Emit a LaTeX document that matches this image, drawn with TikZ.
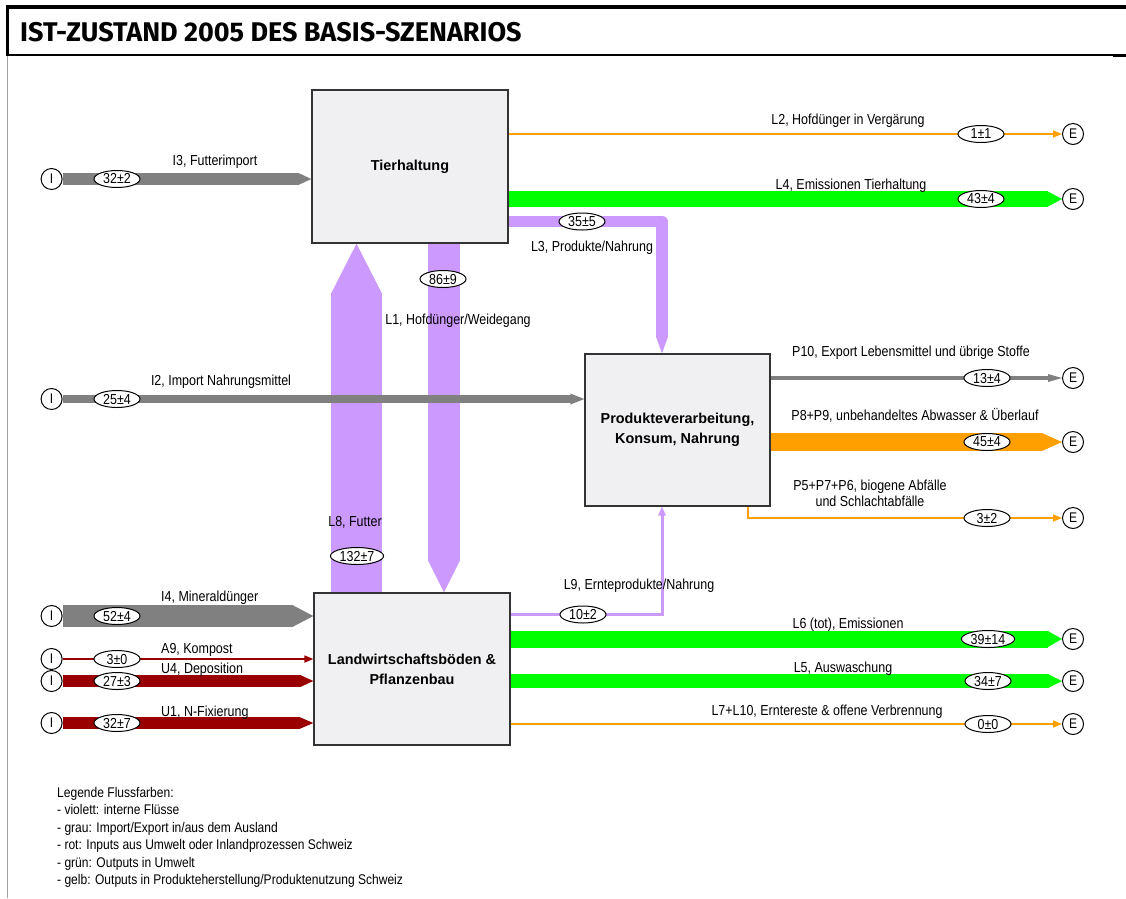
\documentclass[tikz,border=0pt]{standalone}
\usepackage{fontspec}
\setmainfont[FakeStretch=0.86]{Liberation Sans}
\newfontfamily\boxfont{Liberation Sans}
\newfontfamily\titlefont{Fira Sans}
\usetikzlibrary{arrows.meta,calc,shapes.geometric}

\definecolor{flowviolet}{RGB}{204,153,255}
\definecolor{flowgray}{RGB}{128,128,128}
\definecolor{flowgreen}{RGB}{0,255,0}
\definecolor{floworange}{RGB}{255,160,0}
\definecolor{flowred}{RGB}{153,0,0}
\definecolor{procfill}{RGB}{240,240,242}
\definecolor{framegray}{RGB}{160,160,160}

% arrowheads: colour, width, length, tip point
\newcommand\tipR[4]{\fill[#1] (#4) -- ++(-#3,-#2/2) -- ++(0,#2) -- cycle;}
\newcommand\tipU[4]{\fill[#1] (#4) -- ++(-#2/2,#3) -- ++(#2,0) -- cycle;}
\newcommand\tipD[4]{\fill[#1] (#4) -- ++(-#2/2,-#3) -- ++(#2,0) -- cycle;}
% broad flows: colour, band width, head width, head length, start, tip
\newcommand\bandR[6]{%
  \draw[#1, line width=#2pt] (#5) -- ($(#6)+(-#4+0.5,0)$);
  \tipR{#1}{#3}{#4}{#6}}
\newcommand\bandU[6]{%
  \draw[#1, line width=#2pt] (#5) -- ($(#6)+(0,#4-0.5)$);
  \tipU{#1}{#3}{#4}{#6}}
\newcommand\bandD[6]{%
  \draw[#1, line width=#2pt] (#5) -- ($(#6)+(0,-#4+0.5)$);
  \tipD{#1}{#3}{#4}{#6}}

\tikzset{
  proc/.style={draw=black!80, line width=1.3pt, fill=procfill, align=center,
    inner sep=0pt, font=\boxfont\bfseries\fontsize{14.4}{20}\selectfont},
  src/.style={circle, draw=black, fill=white, line width=1pt, minimum size=21pt,
    inner sep=0pt, font=\fontsize{14}{16}\selectfont},
  val/.style={ellipse, draw=black, fill=white, line width=1pt, minimum width=46pt,
    minimum height=17pt, inner xsep=1.5pt, inner ysep=0pt,
    font=\fontsize{14.5}{16}\selectfont},
  lbl/.style={anchor=base, inner sep=0pt, font=\fontsize{14.5}{17}\selectfont},
  lblw/.style={lbl, anchor=base west},
  legend/.style={anchor=base west, inner sep=0pt, font=\fontsize{14}{16}\selectfont},
  thinflow/.style={line width=1.7pt, -{Triangle[length=9pt,width=7pt]}},
}

\begin{document}
\begin{tikzpicture}[x=1pt,y=-1pt]
\useasboundingbox (0,0) rectangle (1126,898);
\fill[white] (0,0) rectangle (1126,898);

% header and frame
\draw[framegray, line width=1pt] (7.5,55) -- (7.5,898);
\draw[line width=3.5pt] (1126,7) -- (7.5,7) -- (7.5,55);
\draw[line width=2.5pt] (6,55) -- (1126,55);
\draw[line width=3.5pt] (1113,55.5) -- (1126,55.5);
\node[anchor=base west, inner sep=0pt,
  font=\titlefont\bfseries\fontsize{27}{30}\selectfont] (title) at (20,41)
  {IST-ZUSTAND 2005 DES BASIS-SZENARIOS};

% processes
\node[proc, minimum width=196pt, minimum height=153pt] (tier) at (410,166.5) {Tierhaltung};
\node[proc, minimum width=185pt, minimum height=152pt] (prod) at (677.5,430)
  {Produkteverarbeitung,\\Konsum, Nahrung};
\node[proc, minimum width=196pt, minimum height=152pt] (land) at (412,669)
  {Landwirtschaftsb\"oden \&\\Pflanzenbau};

% imports
\node[src] (i3) at (51.6,179) {I};
\node[src] (i2) at (51.6,399) {I};
\node[src] (i4) at (51.6,616) {I};
\node[src] (ia9) at (51.6,659) {I};
\node[src] (iu4) at (51.6,681) {I};
\node[src] (iu1) at (51.6,723) {I};
% exports
\node[src] (el2) at (1073,134) {E};
\node[src] (el4) at (1073,199) {E};
\node[src] (ep10) at (1073,378) {E};
\node[src] (ep89) at (1073,442) {E};
\node[src] (ep5) at (1073,518) {E};
\node[src] (el6) at (1073,639) {E};
\node[src] (el5) at (1073,681) {E};
\node[src] (el7) at (1073,724) {E};

% columns and rows of the bent flows
\coordinate (c-l8) at (356.5,0);
\coordinate (c-l1) at (444,0);
\coordinate (c-l3) at (662,221.5);
\coordinate (c-p5) at (748,0);
\coordinate (r-l9) at (0,614.5);

% internal flows
\bandU{flowviolet}{51}{51}{50}{c-l8 |- land.north}{c-l8 |- tier.south}
\bandD{flowviolet}{32}{32}{32}{c-l1 |- tier.south}{c-l1 |- land.north}
\draw[flowviolet, line width=11.5pt, line join=round]
  (tier.east |- c-l3) -- (c-l3) -- ($(c-l3 |- prod.north)+(0,-15.5)$);
\tipD{flowviolet}{11.5}{16}{c-l3 |- prod.north}
\draw[flowviolet, line width=3pt] (land.east |- r-l9) -| ($(c-l3 |- prod.south)+(0,8)$);
\tipU{flowviolet}{8}{9}{c-l3 |- prod.south}

% inputs
\bandR{flowgray}{11.5}{12}{13}{i3.east}{tier.west |- i3}
\bandR{flowgray}{8}{11}{14}{i2.east}{prod.west |- i2}
\bandR{flowgray}{22}{22}{21}{i4.east}{land.west |- i4}
\draw[flowred, thinflow] (ia9.east) -- (land.west |- ia9);
\bandR{flowred}{11.5}{12}{13}{iu4.east}{land.west |- iu4}
\bandR{flowred}{12}{12}{14}{iu1.east}{land.west |- iu1}

% outputs
\draw[floworange, thinflow] (tier.east |- el2) -- (el2);
\bandR{flowgreen}{16}{16}{15}{tier.east |- el4}{el4.west}
\bandR{flowgray}{4.5}{8}{14}{prod.east |- ep10}{ep10.west}
\bandR{floworange}{18}{18}{20}{prod.east |- ep89}{ep89.west}
\draw[floworange, thinflow] (c-p5 |- prod.south) |- (ep5);
\bandR{flowgreen}{17}{17}{15}{land.east |- el6}{el6.west}
\bandR{flowgreen}{14}{14}{14}{land.east |- el5}{el5.west}
\draw[floworange, thinflow] (land.east |- el7) -- (el7);

% flow values
\node[val] (v-i3) at (117,179) {32±2};
\node[val] (v-i2) at (117,399) {25±4};
\node[val] (v-i4) at (117,616) {52±4};
\node[val] (v-a9) at (117,659) {3±0};
\node[val] (v-u4) at (117,681) {27±3};
\node[val] (v-u1) at (117,723) {32±7};
\node[val] (v-l2) at (981,134) {1±1};
\node[val] (v-l4) at (981,199) {43±4};
\node[val] (v-l3) at (582,221.5) {35±5};
\node[val] (v-l1) at (443,279) {86±9};
\node[val] (v-l8) at (357,556) {132±7};
\node[val] (v-l9) at (583,614.5) {10±2};
\node[val] (v-p10) at (987,378) {13±4};
\node[val] (v-p89) at (987,442) {45±4};
\node[val] (v-p5) at (987,518) {3±2};
\node[val] (v-l6) at (988,639) {39±14};
\node[val] (v-l5) at (988,681) {34±7};
\node[val] (v-l7) at (988,724) {0±0};

% flow names
\node[lbl] (t-i3) at (215,165) {I3, Futterimport};
\node[lbl] (t-l2) at (848,124) {L2, Hofdünger in Vergärung};
\node[lbl] (t-l4) at (851,189) {L4, Emissionen Tierhaltung};
\node[lbl] (t-l3) at (592,251) {L3, Produkte/Nahrung};
\node[lbl] (t-l1) at (458,324) {L1, Hofdünger/Weidegang};
\node[lbl] (t-i2) at (221,385) {I2, Import Nahrungsmittel};
\node[lbl] (t-p10) at (911,356) {P10, Export Lebensmittel und übrige Stoffe};
\node[lbl] (t-p89) at (915,420) {P8+P9, unbehandeltes Abwasser \& Überlauf};
\node[lbl] (t-p5a) at (870,490) {P5+P7+P6, biogene Abfälle};
\node[lbl] (t-p5b) at (870,506) {und Schlachtabfälle};
\node[lbl] (t-l8) at (355,526) {L8, Futter};
\node[lbl] (t-l9) at (639,589) {L9, Ernteprodukte/Nahrung};
\node[lblw] (t-i4) at (161,601) {I4, Mineraldünger};
\node[lblw] (t-a9) at (161,653) {A9, Kompost};
\node[lblw] (t-u4) at (161,673) {U4, Deposition};
\node[lblw] (t-u1) at (161,716) {U1, N-Fixierung};
\node[lbl] (t-l6) at (848,628) {L6 (tot), Emissionen};
\node[lbl] (t-l5) at (843,672) {L5, Auswaschung};
\node[lbl] (t-l7) at (827,715.5) {L7+L10, Erntereste \& offene Verbrennung};

% legend
\node[legend] (g0) at (57,797) {Legende Flussfarben:};
\node[legend] (g1) at (57,814.5) {- violett: interne Flüsse};
\node[legend] (g2) at (57,832) {- grau: Import/Export in/aus dem Ausland};
\node[legend] (g3) at (57,849.5) {- rot: Inputs aus Umwelt oder Inlandprozessen Schweiz};
\node[legend] (g4) at (57,867) {- grün: Outputs in Umwelt};
\node[legend] (g5) at (57,884.5) {- gelb: Outputs in Produkteherstellung/Produktenutzung Schweiz};
\end{tikzpicture}
\end{document}
